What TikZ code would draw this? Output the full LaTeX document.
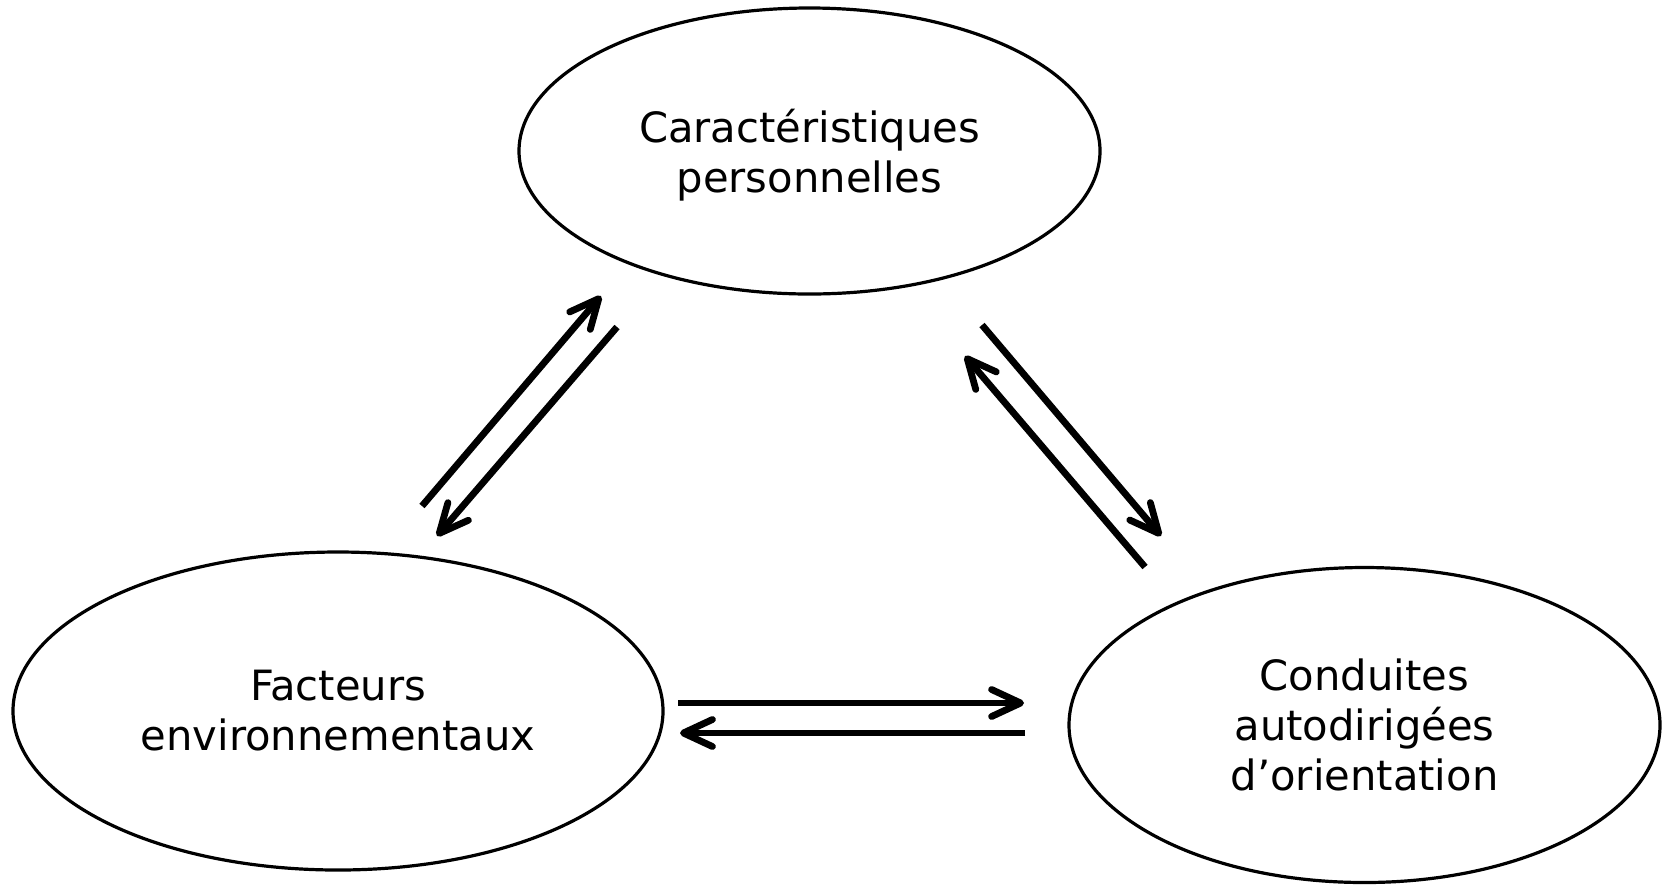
\documentclass[tikz,border=0pt]{standalone}
\usepackage{fontspec}
\setmainfont{DejaVu Sans}
\usetikzlibrary{shapes.geometric,arrows.meta}
\begin{document}
\begin{tikzpicture}[x=0.5pt,y=-0.5pt,
  bubble/.style={ellipse,draw,line width=1.6pt,inner sep=0pt,align=center,
    font=\fontsize{20.85pt}{25pt}\selectfont},
  arr/.style={line width=3.4pt,line cap=butt,
    -{Straight Barb[length=14.5pt,width=13.5pt,round]}}]
\useasboundingbox (0,0) rectangle (1663,885);
\node[bubble,minimum width=290.5pt,minimum height=143pt,text depth=0pt] (perso) at (809.5,151)
  {Caractéristiques\\personnelles};
\node[bubble,minimum width=325pt,minimum height=159pt] (env) at (338,711)
  {Facteurs\\environnementaux};
\node[bubble,minimum width=295.5pt,minimum height=157.5pt] (cond) at (1364.5,725)
  {Conduites\\autodirigées\\d’orientation};
\coordinate (a1s) at (422,506);  \coordinate (a1e) at (601,296);
\coordinate (a2s) at (617,327);  \coordinate (a2e) at (437,536);
\coordinate (a3s) at (982,325);  \coordinate (a3e) at (1161,536);
\coordinate (a4s) at (1145,567); \coordinate (a4e) at (965,356);
\coordinate (a5s) at (678,703);  \coordinate (a5e) at (1024,703);
\coordinate (a6s) at (1025,733); \coordinate (a6e) at (680,733);
\draw[arr] (a1s) -- (a1e);
\draw[arr] (a2s) -- (a2e);
\draw[arr] (a3s) -- (a3e);
\draw[arr] (a4s) -- (a4e);
\draw[arr] (a5s) -- (a5e);
\draw[arr] (a6s) -- (a6e);
\end{tikzpicture}
\end{document}
